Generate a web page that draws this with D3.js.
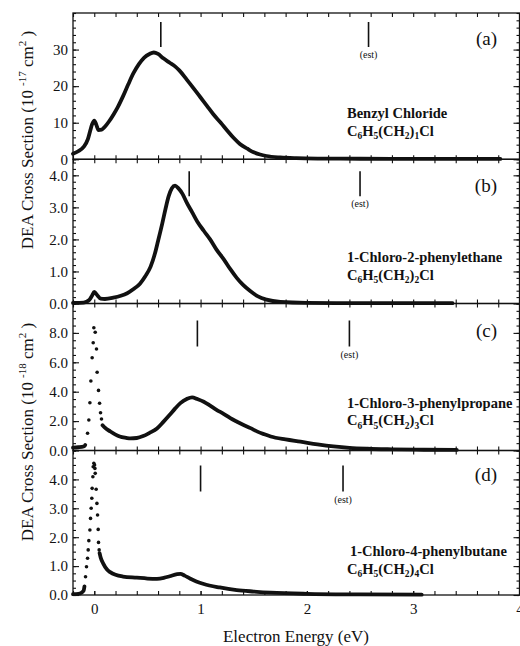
<!DOCTYPE html>
<html>
<head>
<meta charset="utf-8">
<script src="https://cdn.jsdelivr.net/npm/d3@7"></script>
<style>
  body { margin: 0; background: #fff; }
  svg { display: block; }
</style>
</head>
<body>
<svg id="chart"></svg>
<script>
// values: [energy (eV), cross section]
var benzylDense = [
  [-0.2, 1.5], [-0.15, 2.2], [-0.1, 3.4], [-0.06, 5.5], [-0.04, 7.6], [-0.02, 9.6], [0.0, 10.6],
  [0.02, 9.4], [0.04, 8.0], [0.07, 8.1], [0.1, 8.9], [0.14, 10.4], [0.18, 12.2], [0.22, 14.2],
  [0.27, 17.2], [0.32, 20.5], [0.37, 23.6], [0.42, 26.0], [0.47, 27.8], [0.52, 28.8], [0.56, 29.2],
  [0.6, 28.8], [0.65, 27.6], [0.71, 26.4], [0.76, 25.4], [0.8, 24.3], [0.87, 21.8], [0.94, 19.2],
  [1.0, 16.9], [1.06, 14.6], [1.12, 12.3], [1.19, 10.0], [1.25, 7.9], [1.31, 5.9], [1.37, 4.2],
  [1.44, 2.9], [1.5, 1.9], [1.56, 1.3], [1.62, 0.9], [1.75, 0.5], [1.9, 0.3], [2.1, 0.2],
  [2.5, 0.15], [3.0, 0.12], [3.5, 0.1], [3.82, 0.1]
];

var ethaneDense = [
  [-0.2, 0.02], [-0.1, 0.03], [-0.05, 0.1], [-0.02, 0.25], [0.0, 0.36], [0.03, 0.25], [0.06, 0.15],
  [0.1, 0.14], [0.18, 0.18], [0.25, 0.24], [0.31, 0.32], [0.37, 0.45], [0.43, 0.62], [0.48, 0.85],
  [0.53, 1.15], [0.57, 1.55], [0.6, 1.95], [0.64, 2.5], [0.67, 2.95], [0.7, 3.35], [0.73, 3.6],
  [0.76, 3.68], [0.79, 3.6], [0.83, 3.42], [0.87, 3.15], [0.92, 2.85], [0.97, 2.55], [1.03, 2.27],
  [1.09, 2.0], [1.15, 1.68], [1.22, 1.37], [1.28, 1.07], [1.34, 0.8], [1.4, 0.58], [1.47, 0.38],
  [1.54, 0.22], [1.62, 0.12], [1.75, 0.05], [2.0, 0.02], [2.5, 0.01], [3.37, 0.01]
];

var propaneLow = [[-0.2, 0.2], [-0.15, 0.22], [-0.1, 0.27], [-0.085, 0.37]];
var propaneDots = [
  [-0.063, 1.17], [-0.051, 2.07], [-0.041, 3.25], [-0.032, 4.73], [-0.02, 6.31], [-0.01, 7.33],
  [-0.004, 8.35], [0.009, 8.04], [0.021, 6.9], [0.027, 5.32], [0.04, 4.09], [0.05, 3.21],
  [0.059, 2.57], [0.068, 2.14]
];
var propaneHigh = [
  [0.078, 1.72], [0.1, 1.55], [0.15, 1.3], [0.2, 1.08], [0.24, 0.95], [0.3, 0.86], [0.34, 0.82],
  [0.4, 0.85], [0.46, 0.98], [0.52, 1.2], [0.59, 1.5], [0.65, 1.95], [0.71, 2.43], [0.76, 2.85],
  [0.81, 3.22], [0.87, 3.5], [0.92, 3.62], [0.97, 3.5], [1.03, 3.32], [1.09, 3.05], [1.15, 2.77],
  [1.22, 2.48], [1.28, 2.2], [1.34, 1.97], [1.4, 1.75], [1.47, 1.52], [1.53, 1.3], [1.6, 1.1],
  [1.66, 0.95], [1.8, 0.75], [1.94, 0.6], [2.1, 0.42], [2.25, 0.28], [2.4, 0.18], [2.57, 0.12],
  [2.8, 0.08], [3.1, 0.05], [3.41, 0.04]
];

var butaneLow = [[-0.2, 0.03], [-0.15, 0.04], [-0.12, 0.08], [-0.1, 0.15], [-0.092, 0.3]];
var butaneDots = [
  [-0.082, 0.63], [-0.073, 0.98], [-0.063, 1.27], [-0.057, 1.56], [-0.051, 1.88], [-0.041, 2.25],
  [-0.035, 2.65], [-0.029, 3.0], [-0.023, 3.35], [-0.02, 3.69], [-0.013, 4.09], [-0.01, 4.44],
  [-0.004, 4.56], [0.003, 4.5], [0.006, 4.38], [0.009, 4.21], [0.018, 3.66], [0.025, 3.17],
  [0.031, 2.77], [0.037, 2.27], [0.04, 1.82], [0.046, 1.56]
];
var butaneHigh = [
  [0.05, 1.45], [0.06, 1.3], [0.086, 1.08], [0.12, 0.88], [0.15, 0.79], [0.2, 0.7], [0.27, 0.64],
  [0.4, 0.6], [0.5, 0.57], [0.59, 0.56], [0.66, 0.6], [0.71, 0.65], [0.78, 0.72], [0.81, 0.73],
  [0.85, 0.67], [0.9, 0.57], [0.96, 0.47], [1.03, 0.38], [1.18, 0.26], [1.34, 0.17], [1.5, 0.12],
  [1.66, 0.08], [2.0, 0.04], [2.5, 0.02], [3.08, 0.01]
];

// vertical markers: [measured, estimated] energies
var markersA = [0.626, 2.58],
    markersB = [0.893, 2.50],
    markersC = [0.97, 2.40],
    markersD = [1.0, 2.34];

var yTicksA = [0, 10, 20, 30],
    yTicksB = [0, 1, 2, 3, 4],
    yTicksC = [0, 2, 4, 6, 8],
    yTicksD = [0, 1, 2, 3, 4];
var xTicks = [0, 1, 2, 3, 4];

var names = ['Benzyl Chloride', '1-Chloro-2-phenylethane', '1-Chloro-3-phenylpropane', '1-Chloro-4-phenylbutane'];
var chainLengths = ['1', '2', '3', '4'];
var letters = ['(a)', '(b)', '(c)', '(d)'];

var width = 520,
    height = 646,
    plotLeft = 73,
    plotRight = 519.5,
    serif = '"Liberation Serif", "Times New Roman", serif',
    ink = '#111';

var panels = [
  { top: 13, bottom: 159.3, yMax: 40, minor: 2, ticks: yTicksA, fmt: d3.format('d'),
    lines: [benzylDense], dots: [], markers: markersA, mark: [9, 34], letterY: 45, nameY: 118, nameX: 347 },
  { top: 159.3, bottom: 303.5, yMax: 4.5, minor: 0.2, ticks: yTicksB, fmt: d3.format('.1f'),
    lines: [ethaneDense], dots: [], markers: markersB, mark: [12, 37], letterY: 192, nameY: 262, nameX: 347 },
  { top: 303.5, bottom: 450.5, yMax: 10, minor: 0.5, ticks: yTicksC, fmt: d3.format('.1f'),
    lines: [propaneLow, propaneHigh], dots: propaneDots, markers: markersC, mark: [17, 43], letterY: 337, nameY: 407.5, nameX: 347 },
  { top: 450.5, bottom: 595, yMax: 5, minor: 0.25, ticks: yTicksD, fmt: d3.format('.1f'),
    lines: [butaneLow, butaneHigh], dots: butaneDots, markers: markersD, mark: [15, 41], letterY: 481, nameY: 556, nameX: 350 }
];

var svg = d3.select('svg#chart')
    .attr('width', width)
    .attr('height', height)
    .attr('font-family', serif);

var x = d3.scaleLinear().domain([-0.2, 4]).range([plotLeft, plotRight]);
var xMinor = d3.range(-0.2, 4.001, 0.2).map(function(v) { return +v.toFixed(1); });

panels.forEach(drawPanel);

function drawPanel(p, i) {
    var y = d3.scaleLinear().domain([0, p.yMax]).range([p.bottom, p.top]);
    var yMinor = d3.range(0, p.yMax + 1e-6, p.minor);
    var g = svg.append('g');

    // tick marks, all pointing inward
    g.append('g').attr('transform', 'translate(' + plotLeft + ',0)')
        .call(d3.axisLeft(y).tickValues(yMinor).tickSize(-3).tickFormat(''));
    g.append('g').attr('transform', 'translate(' + plotLeft + ',0)')
        .call(d3.axisLeft(y).tickValues(p.ticks).tickSize(-6).tickPadding(5).tickFormat(p.fmt));
    g.append('g').attr('transform', 'translate(' + plotRight + ',0)')
        .call(d3.axisRight(y).tickValues(yMinor).tickSize(-3).tickFormat(''));
    g.append('g').attr('transform', 'translate(' + plotRight + ',0)')
        .call(d3.axisRight(y).tickValues(p.ticks).tickSize(-6).tickFormat(''));
    g.append('g').attr('transform', 'translate(0,' + p.top + ')')
        .call(d3.axisTop(x).tickValues(xMinor).tickSize(-4).tickFormat(''));
    var bottom = g.append('g').attr('transform', 'translate(0,' + p.bottom + ')')
        .call(d3.axisBottom(x).tickValues(xMinor).tickSize(-4).tickFormat(''));
    if (i === panels.length - 1) {
        g.append('g').attr('transform', 'translate(0,' + p.bottom + ')')
            .call(d3.axisBottom(x).tickValues(xTicks).tickSize(-4).tickPadding(8).tickFormat(d3.format('d')));
    }

    g.selectAll('.domain').remove();
    g.selectAll('.tick line').attr('stroke', ink).attr('stroke-width', 1.1);
    g.selectAll('.tick text').attr('font-family', serif).attr('font-size', 15).attr('fill', ink);

    g.append('rect')
        .attr('x', plotLeft)
        .attr('y', p.top)
        .attr('width', plotRight - plotLeft)
        .attr('height', p.bottom - p.top)
        .attr('fill', 'none')
        .attr('stroke', ink)
        .attr('stroke-width', 1.3);

    var line = d3.line()
        .x(function(d) { return x(d[0]); })
        .y(function(d) { return y(d[1]); })
        .curve(d3.curveMonotoneX);

    p.lines.forEach(function(seg) {
        g.append('path')
            .attr('d', line(seg))
            .attr('fill', 'none')
            .attr('stroke', ink)
            .attr('stroke-width', 3.8)
            .attr('stroke-linecap', 'round')
            .attr('stroke-linejoin', 'round');
    });

    g.selectAll('circle.pt')
        .data(p.dots)
        .enter().append('circle')
        .attr('class', 'pt')
        .attr('cx', function(d) { return x(d[0]); })
        .attr('cy', function(d) { return y(d[1]); })
        .attr('r', 1.8)
        .attr('fill', ink);

    // measured and estimated markers
    p.markers.forEach(function(e, k) {
        g.append('line')
            .attr('x1', x(e)).attr('x2', x(e))
            .attr('y1', p.top + p.mark[0]).attr('y2', p.top + p.mark[1])
            .attr('stroke', ink)
            .attr('stroke-width', 1.6);
        if (k === 1) {
            g.append('text')
                .attr('x', x(e))
                .attr('y', p.top + p.mark[1] + 11)
                .attr('text-anchor', 'middle')
                .attr('font-size', 10)
                .attr('fill', ink)
                .text('(est)');
        }
    });

    g.append('text')
        .attr('x', 497)
        .attr('y', p.letterY)
        .attr('text-anchor', 'end')
        .attr('font-size', 19)
        .attr('fill', ink)
        .text(letters[i]);

    g.append('text')
        .attr('x', p.nameX)
        .attr('y', p.nameY)
        .attr('font-size', 14.5)
        .attr('font-weight', 'bold')
        .attr('fill', ink)
        .text(names[i]);

    var formula = g.append('text')
        .attr('x', 347)
        .attr('y', p.nameY + 17.5)
        .attr('font-size', 14.5)
        .attr('font-weight', 'bold')
        .attr('fill', ink);
    [['C'], ['6', 1], ['H'], ['5', 1], ['(CH'], ['2', 1], [')'], [chainLengths[i], 1], ['Cl']]
        .forEach(function(part, k, all) {
            var prevSub = k > 0 && all[k - 1][1];
            var ts = formula.append('tspan').text(part[0]);
            if (part[1]) ts.attr('font-size', 9.5).attr('dy', 3.5);
            else if (prevSub) ts.attr('dy', -3.5);
        });
}

yTitle(33, 140, '-17');
yTitle(33, 432, '-18');

function yTitle(tx, ty, exp) {
    var t = svg.append('text')
        .attr('transform', 'translate(' + tx + ',' + ty + ') rotate(-90)')
        .attr('text-anchor', 'middle')
        .attr('font-size', 17)
        .attr('fill', ink);
    t.append('tspan').text('DEA Cross Section (10 ');
    t.append('tspan').attr('font-size', 11).attr('dy', -7).text(exp);
    t.append('tspan').attr('dy', 7).text(' cm');
    t.append('tspan').attr('font-size', 11).attr('dy', -7).text('2');
    t.append('tspan').attr('dy', 7).text(' )');
}

svg.append('text')
    .attr('x', 296)
    .attr('y', 642)
    .attr('text-anchor', 'middle')
    .attr('font-size', 17)
    .attr('fill', ink)
    .text('Electron Energy (eV)');
</script>
</body>
</html>
